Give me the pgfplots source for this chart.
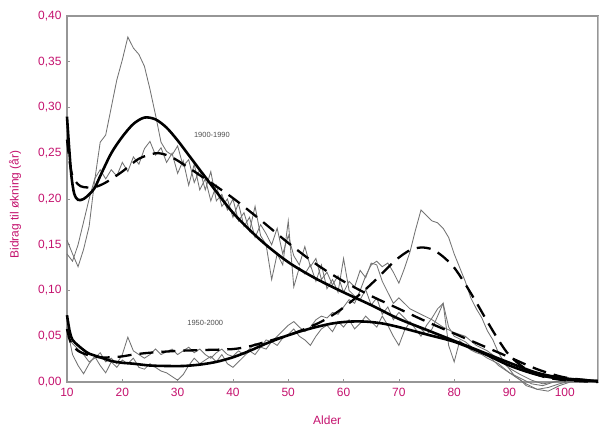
\documentclass[border=0pt]{standalone}
\usepackage{pgfplots}
\pgfplotsset{compat=1.18}
\usepackage{fontspec}
\setmainfont{Liberation Sans}
\definecolor{lab}{RGB}{196,18,110}
\definecolor{thingray}{RGB}{115,115,115}
\definecolor{axg}{RGB}{150,150,150}
\begin{document}
\begin{tikzpicture}
\begin{axis}[
  at={(0,0)}, anchor=south west,
  width=531bp, height=366bp, scale only axis,
  xmin=10, xmax=106, ymin=0, ymax=0.4,
  clip=false,
  axis line style={axg, line width=1.2pt},
  xtick={10,20,...,100},
  ytick={0,0.05,...,0.41},
  tick style={axg, line width=0.6pt},
  major tick length=3bp,
  tick align=inside,
  xtick pos=bottom, ytick pos=left,
  /pgf/number format/assume math mode=true,
  yticklabel style={/pgf/number format/fixed, /pgf/number format/fixed zerofill, /pgf/number format/precision=2, /pgf/number format/use comma, xshift=-2bp},
  ticklabel style={font=\fontsize{12}{14}\selectfont, text=lab},
  xticklabel style={yshift=-3bp},
  xlabel={Alder},
  ylabel={Bidrag til økning (år)},
  label style={font=\fontsize{12}{14}\selectfont, text=lab},
  xlabel style={at={(axis description cs:0.49,-0.105)}, anchor=center},
  ylabel style={at={(axis description cs:-0.098,0.485)}, anchor=center},
]
% thin lines (actual)
\addplot[thingray, line width=0.85pt] coordinates {
(10,0.155)(11,0.140)(12,0.126)(13,0.145)(14,0.170)(15,0.220)(16,0.262)(17,0.270)(18,0.300)(19,0.330)
(20,0.352)(21,0.377)(22,0.365)(23,0.358)(24,0.345)(25,0.320)(26,0.292)(27,0.262)(28,0.252)(29,0.248)
(30,0.258)(31,0.236)(32,0.243)(33,0.218)(34,0.232)(35,0.210)(36,0.230)(37,0.198)(38,0.205)(39,0.188)
(40,0.200)(41,0.176)(42,0.185)(43,0.165)(44,0.192)(45,0.160)(46,0.150)(47,0.112)(48,0.140)(49,0.128)
(50,0.176)(51,0.104)(52,0.125)(53,0.118)(54,0.128)(55,0.110)(56,0.128)(57,0.102)(58,0.112)(59,0.098)
(60,0.135)(61,0.100)(62,0.094)(63,0.090)(64,0.101)(65,0.084)(66,0.092)(67,0.074)(68,0.082)(69,0.068)
(70,0.076)(72,0.064)(74,0.058)(75,0.052)(76,0.058)(77,0.072)(78,0.086)(79,0.060)(80,0.050)(82,0.044)
(84,0.034)(86,0.030)(88,0.018)(90,0.010)(92,0.004)(94,-0.002)(96,-0.004)(98,0.000)(100,0.002)(103,0.001)(106,0.000)};
\addplot[thingray, line width=0.85pt] coordinates {
(10,0.140)(11,0.132)(12,0.150)(13,0.175)(14,0.200)(15,0.222)(16,0.232)(17,0.222)(18,0.232)(19,0.225)
(20,0.240)(21,0.230)(22,0.246)(23,0.238)(24,0.255)(25,0.263)(26,0.248)(27,0.256)(28,0.240)(29,0.250)
(30,0.228)(31,0.242)(32,0.215)(33,0.238)(34,0.210)(35,0.222)(36,0.198)(37,0.215)(38,0.192)(39,0.200)
(40,0.180)(41,0.195)(42,0.170)(43,0.180)(44,0.158)(45,0.172)(46,0.162)(47,0.150)(48,0.168)(49,0.140)
(50,0.160)(51,0.138)(52,0.128)(53,0.148)(54,0.126)(55,0.135)(56,0.112)(57,0.120)(58,0.106)(59,0.116)
(60,0.098)(61,0.110)(62,0.104)(63,0.122)(64,0.114)(65,0.130)(66,0.128)(67,0.110)(68,0.098)(69,0.086)
(70,0.092)(72,0.080)(74,0.074)(76,0.068)(78,0.060)(80,0.054)(82,0.050)(84,0.040)(86,0.034)(88,0.025)
(90,0.015)(92,0.008)(94,0.002)(96,-0.002)(98,0.000)(100,0.001)(106,0.000)};
\addplot[thingray, line width=0.85pt] coordinates {
(10,0.060)(11,0.030)(12,0.018)(13,0.009)(14,0.020)(15,0.028)(16,0.018)(17,0.010)(18,0.022)(19,0.016)
(20,0.024)(21,0.020)(22,0.026)(23,0.016)(24,0.014)(25,0.020)(26,0.016)(27,0.012)(28,0.010)(29,0.006)
(30,0.002)(31,0.008)(32,0.018)(33,0.026)(34,0.020)(35,0.024)(36,0.028)(37,0.022)(38,0.030)(39,0.020)
(40,0.016)(41,0.022)(42,0.028)(43,0.034)(44,0.030)(45,0.038)(46,0.036)(47,0.044)(48,0.040)(49,0.048)
(50,0.052)(51,0.058)(52,0.050)(53,0.046)(54,0.040)(55,0.050)(56,0.058)(57,0.062)(58,0.055)(59,0.066)
(60,0.060)(61,0.068)(62,0.058)(63,0.064)(64,0.072)(65,0.066)(66,0.060)(67,0.072)(68,0.062)(69,0.050)
(70,0.040)(71,0.056)(72,0.066)(73,0.058)(74,0.050)(75,0.062)(76,0.070)(77,0.080)(78,0.086)(79,0.040)
(80,0.022)(81,0.045)(82,0.040)(83,0.035)(84,0.032)(85,0.030)(86,0.026)(88,0.020)(90,0.010)(92,0.002)
(93,-0.004)(95,-0.008)(97,-0.006)(99,-0.002)(101,0.001)(104,0.000)(106,0.000)};
\addplot[thingray, line width=0.85pt] coordinates {
(10,0.050)(11,0.042)(12,0.036)(13,0.030)(14,0.022)(15,0.026)(16,0.032)(17,0.022)(18,0.026)(19,0.020)
(20,0.030)(21,0.049)(22,0.034)(23,0.030)(24,0.026)(25,0.030)(26,0.036)(27,0.030)(28,0.033)(29,0.036)
(30,0.030)(31,0.034)(32,0.038)(33,0.032)(34,0.036)(35,0.030)(36,0.026)(37,0.032)(38,0.036)(39,0.030)
(40,0.028)(41,0.034)(42,0.030)(43,0.036)(44,0.042)(45,0.038)(46,0.046)(47,0.044)(48,0.050)(49,0.056)
(50,0.062)(51,0.066)(52,0.060)(53,0.055)(54,0.060)(55,0.068)(56,0.072)(57,0.070)(58,0.076)(59,0.074)
(60,0.082)(61,0.090)(62,0.086)(63,0.100)(64,0.116)(65,0.128)(66,0.132)(67,0.126)(68,0.130)(69,0.120)
(70,0.108)(71,0.124)(72,0.142)(73,0.166)(74,0.188)(75,0.182)(76,0.176)(77,0.174)(78,0.168)(79,0.158)
(80,0.140)(81,0.125)(82,0.110)(83,0.092)(84,0.080)(85,0.070)(86,0.056)(87,0.046)(88,0.032)(89,0.022)
(90,0.014)(91,0.006)(93,-0.002)(95,-0.008)(97,-0.010)(99,-0.004)(101,0.000)(104,0.001)(106,0.000)};
% thick smoothed lines
\addplot[black, line width=2.6pt, smooth] coordinates {
(10,0.290)(10.4,0.255)(10.8,0.225)(11.3,0.206)(12,0.199)(13,0.200)(14,0.205)(15,0.212)(16,0.225)
(18,0.250)(20,0.268)(22,0.282)(24,0.289)(26,0.287)(28,0.278)(30,0.264)(32,0.248)(35,0.224)(40,0.185)
(45,0.155)(50,0.131)(55,0.113)(60,0.098)(65,0.084)(70,0.069)(75,0.057)(80,0.045)(85,0.033)(90,0.021)
(95,0.010)(100,0.004)(106,0.001)};
\addplot[black, line width=2.3pt, smooth, dash pattern=on 14bp off 8bp] coordinates {
(10,0.265)(10.5,0.240)(11,0.225)(12,0.216)(13,0.213)(15,0.213)(17,0.218)(20,0.230)(23,0.244)(26,0.250)
(28,0.248)(30,0.242)(35,0.222)(40,0.201)(45,0.177)(50,0.152)(55,0.129)(60,0.110)(65,0.094)(70,0.080)
(75,0.066)(80,0.053)(85,0.040)(90,0.027)(95,0.014)(100,0.005)(106,0.001)};
\addplot[black, line width=2.6pt, smooth] coordinates {
(10,0.073)(10.5,0.055)(11,0.046)(12,0.040)(13,0.035)(14,0.031)(16,0.027)(18,0.023)(20,0.021)(22,0.020)
(25,0.018)(28,0.0175)(31,0.0175)(34,0.019)(37,0.022)(40,0.027)(43,0.034)(46,0.042)(49,0.049)(52,0.055)
(55,0.060)(58,0.064)(61,0.066)(64,0.066)(67,0.064)(70,0.060)(75,0.052)(80,0.044)(85,0.032)(90,0.018)
(95,0.008)(100,0.003)(106,0.001)};
\addplot[black, line width=2.3pt, smooth, dash pattern=on 14bp off 8bp] coordinates {
(10,0.058)(10.5,0.046)(11,0.040)(12,0.034)(14,0.029)(16,0.027)(18,0.027)(20,0.028)(22,0.030)(25,0.032)
(30,0.034)(35,0.035)(40,0.036)(43,0.039)(46,0.044)(50,0.051)(53,0.058)(56,0.066)(59,0.077)(62,0.091)
(65,0.107)(68,0.125)(70,0.136)(72,0.144)(74,0.147)(76,0.145)(78,0.137)(80,0.125)(82,0.107)(84,0.087)
(86,0.066)(88,0.046)(90,0.029)(93,0.014)(96,0.006)(100,0.002)(106,0.000)};
\node[font=\fontsize{7.5}{8}\selectfont, text=black!70] at (axis cs:36.2,0.27) {1900-1990};
\node[font=\fontsize{7.5}{8}\selectfont, text=black!70] at (axis cs:35,0.0645) {1950-2000};
% right border
\draw[black!25, line width=0.8pt] (rel axis cs:1,0) -- (rel axis cs:1,1);
\end{axis}
\path[use as bounding box] (-67bp,-46.3bp) rectangle (533bp,382bp);
\end{tikzpicture}
\end{document}
